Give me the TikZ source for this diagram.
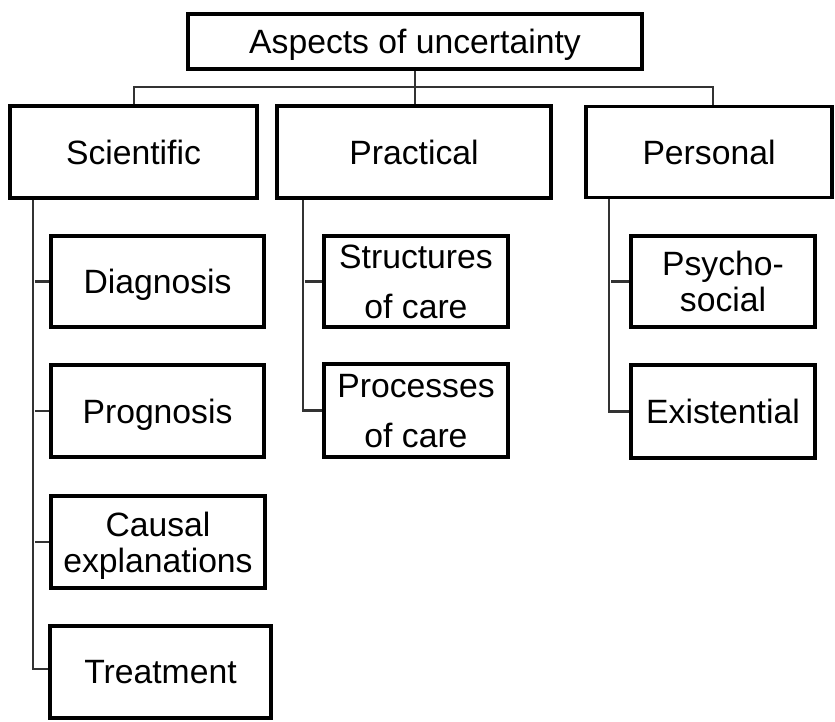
\documentclass[tikz,border=0pt]{standalone}
\usepackage{fontspec}
\setmainfont{Liberation Sans}
\begin{document}
\begin{tikzpicture}[x=1pt,y=-1pt,
  box/.style={draw=black, line width=3.3pt, fill=white, inner sep=0pt, align=center,
    text depth=0pt, font=\fontsize{33.7}{36}\selectfont},
  conn/.style={draw=black!80, line width=2.1pt}]
\useasboundingbox (0,0) rectangle (835,721);
\fill[white] (0,0) rectangle (835,721);
% boxes
\node[box, minimum width=454pt, minimum height=55pt] (top) at (415,41.5) {Aspects of uncertainty};
\node[box, minimum width=247pt, minimum height=92pt] (sci) at (133.5,152) {Scientific};
\node[box, minimum width=274pt, minimum height=92pt] (prac) at (414,152) {Practical};
\node[box, minimum width=246pt, minimum height=91pt] (pers) at (709,152) {Personal};
\node[box, minimum width=213pt, minimum height=91pt] (diag) at (157.5,281.5) {Diagnosis};
\node[box, minimum width=213pt, minimum height=92pt] (prog) at (157.5,411) {Prognosis};
\node[box, minimum width=214pt, minimum height=92pt] (caus) at (158,542) {Causal\\explanations};
\node[box, minimum width=221pt, minimum height=92pt] (treat) at (160.5,672) {Treatment};
\node[box, minimum width=184pt, minimum height=91pt] (struc) at (416,281.5) {Structures\\[14pt]of care};
\node[box, minimum width=184pt, minimum height=93pt] (proc) at (416,410.5) {Processes\\[14pt]of care};
\node[box, minimum width=184pt, minimum height=91pt] (psy) at (723,281.5) {Psycho-\\social};
\node[box, minimum width=184pt, minimum height=93pt] (exis) at (723,411.5) {Existential};
% top-level connectors
\coordinate (bar) at (415,87);
\draw[conn] (top.south) -- (bar);
\draw[conn] (sci.north) ++(0.5,0) coordinate (scitop) (scitop) |- (bar) -| (pers.north -| 713,0);
\draw[conn] (bar) -- (prac.north -| bar);
% scientific branch
\draw[conn] ([xshift=25pt]sci.south west) |- ([yshift=3pt]treat.west);
\draw[conn] (diag.west) -- (diag.west -| 35,0);
\draw[conn] (prog.west) -- (prog.west -| 35,0);
\draw[conn] (caus.west) -- (caus.west -| 35,0);
% practical branch
\draw[conn] ([xshift=28pt]prac.south west) |- (proc.west);
\draw[conn] (struc.west) -- (struc.west -| 305,0);
% personal branch
\draw[conn] ([xshift=25pt]pers.south west) |- (exis.west);
\draw[conn] (psy.west) -- (psy.west -| 611,0);
\end{tikzpicture}
\end{document}
